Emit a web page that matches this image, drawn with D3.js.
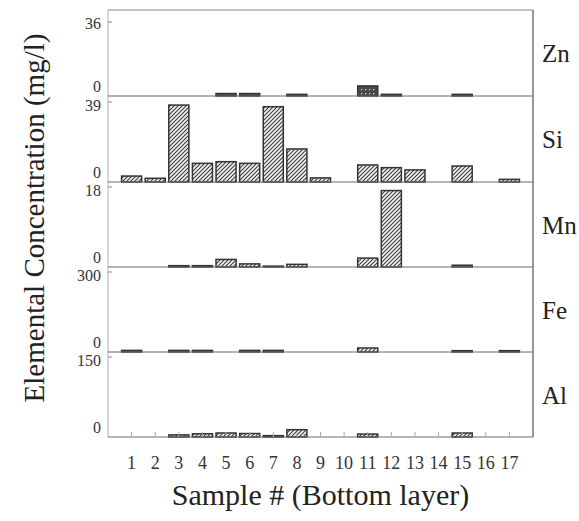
<!DOCTYPE html>
<html>
<head>
<meta charset="utf-8">
<script src="https://cdn.jsdelivr.net/npm/d3@7"></script>
<style>
  html, body { margin: 0; padding: 0; background: #fff; }
  svg { display: block; }
</style>
</head>
<body>
<svg id="chart" width="579" height="521"></svg>
<script>
// Sample numbers along the bottom
const samples = ["1","2","3","4","5","6","7","8","9","10","11","12","13","14","15","16","17"];
// Element panels, top to bottom
const elements = ["Zn", "Si", "Mn", "Fe", "Al"];
// Top tick value of each panel (mg/l)
const axisMax = [36, 39, 18, 300, 150];

// Concentrations per sample (mg/l); 0 = no bar
const zn = [0, 0, 0, 0, 1.2, 1.2, 0, 0.8, 0, 0, 4.9, 0.8, 0, 0, 0.8, 0, 0];
const si = [2.9, 1.8, 37.5, 9.1, 9.9, 9.1, 36.7, 16.1, 2, 0, 8.3, 7, 5.9, 0, 7.8, 0, 1.3];
const mn = [0, 0, 0.3, 0.3, 1.7, 0.7, 0.2, 0.6, 0, 0, 2.0, 17.2, 0, 0, 0.4, 0, 0];
const fe = [6, 0, 6, 6, 0, 6, 6, 0, 0, 0, 15, 0, 0, 0, 5, 0, 5];
const al = [0, 0, 4, 6, 7.5, 6.5, 2.5, 13.7, 0, 0, 5.5, 0, 0, 0, 7.5, 0, 0];

const seriesByElement = [zn, si, mn, fe, al];

// Geometry
const plotLeft = 108, plotRight = 533, plotTop = 10;
const baselines = [96, 182, 267, 352, 437];
const tickSpan = [74, 80, 80, 80, 80];
const FONT = '"Liberation Serif", "Times New Roman", serif';

const svg = d3.select("#chart");

// Fill patterns
const defs = svg.append("defs");
const hatch = defs.append("pattern")
  .attr("id", "hatch").attr("patternUnits", "userSpaceOnUse")
  .attr("width", 4).attr("height", 4);
hatch.append("rect").attr("width", 4).attr("height", 4).attr("fill", "#f4f4f4");
hatch.append("path")
  .attr("d", "M-1,1 l2,-2 M0,4 l4,-4 M3,5 l2,-2")
  .attr("stroke", "#3a3a3a").attr("stroke-width", 1.1);

const dots = defs.append("pattern")
  .attr("id", "dots").attr("patternUnits", "userSpaceOnUse")
  .attr("width", 4).attr("height", 4);
dots.append("rect").attr("width", 4).attr("height", 4).attr("fill", "#4a4a4a");
dots.append("rect").attr("x", 1).attr("y", 1).attr("width", 1.2).attr("height", 1.2).attr("fill", "#d8d8d8");

const x = d3.scaleBand()
  .domain(samples)
  .range([plotLeft, plotRight])
  .paddingInner(0.15)
  .paddingOuter(0.575);

// Frame: top line, right axis, left axis
svg.append("line").attr("x1", plotLeft).attr("x2", plotRight).attr("y1", plotTop).attr("y2", plotTop)
  .attr("stroke", "#8a8a8a").attr("stroke-width", 1);
svg.append("line").attr("x1", plotRight).attr("x2", plotRight).attr("y1", plotTop).attr("y2", baselines[4])
  .attr("stroke", "#555").attr("stroke-width", 1.2);
svg.append("line").attr("x1", plotLeft).attr("x2", plotLeft).attr("y1", plotTop).attr("y2", baselines[4])
  .attr("stroke", "#b0b0b0").attr("stroke-width", 1);

elements.forEach((el, i) => {
  const base = baselines[i];
  const y = d3.scaleLinear().domain([0, axisMax[i]]).range([base, base - tickSpan[i]]);
  const g = svg.append("g");

  // Left axis labels: 0 sits on the baseline, top value hangs below the panel's upper edge
  const yAxis = d3.axisLeft(y).tickValues([0, axisMax[i]]).tickSize(0).tickPadding(7);
  const ax = g.append("g").attr("transform", `translate(${plotLeft},0)`)
    .attr("font-family", null).call(yAxis);
  ax.select(".domain").remove();
  ax.selectAll(".tick text")
    .style("font-family", FONT).style("font-size", "16px")
    .attr("fill", "#333")
    .attr("dy", d => d === 0 ? "-0.26em" : (i === 0 ? "0.4em" : "0.56em"));
  // short inward tick at top value
  g.append("line")
    .attr("x1", plotLeft).attr("x2", plotLeft + 4)
    .attr("y1", y(axisMax[i])).attr("y2", y(axisMax[i]))
    .attr("stroke", "#888");

  // Bars
  const data = samples.map((s, k) => ({ s, v: seriesByElement[i][k] })).filter(d => d.v > 0);
  g.selectAll("rect.bar").data(data).join("rect")
    .attr("class", "bar")
    .attr("x", d => x(d.s))
    .attr("width", x.bandwidth())
    .attr("y", d => y(d.v))
    .attr("height", d => base - y(d.v))
    .attr("fill", el === "Zn" ? "url(#dots)" : "url(#hatch)")
    .attr("stroke", "#333")
    .attr("stroke-width", 1.5);

  // Baseline / panel separator
  g.append("line").attr("x1", plotLeft).attr("x2", plotRight).attr("y1", base).attr("y2", base)
    .attr("stroke", "#6a6a6a").attr("stroke-width", 1);

  // Element name on the right
  const panelTop = i === 0 ? plotTop : baselines[i - 1];
  svg.append("text")
    .attr("x", 542)
    .attr("y", panelTop + (base - panelTop) / 2 + 9)
    .style("font-family", FONT).style("font-size", "25px")
    .attr("fill", "#222")
    .text(el);
});

// Bottom axis with sample numbers and faint inward ticks
const xAxis = d3.axisBottom(x).tickSize(0).tickPadding(19);
const xa = svg.append("g").attr("transform", `translate(0,${baselines[4]})`).call(xAxis);
xa.select(".domain").remove();
xa.selectAll("text")
  .style("font-family", FONT).style("font-size", "18px")
  .attr("fill", "#333");
svg.append("g").selectAll("line").data(samples).join("line")
  .attr("x1", d => x(d) + x.bandwidth() / 2).attr("x2", d => x(d) + x.bandwidth() / 2)
  .attr("y1", baselines[4]).attr("y2", baselines[4] - 5)
  .attr("stroke", "#aaa").attr("stroke-width", 1);

// Axis titles
svg.append("text")
  .attr("x", (plotLeft + plotRight) / 2).attr("y", 505)
  .attr("text-anchor", "middle")
  .style("font-family", FONT).style("font-size", "30px")
  .attr("fill", "#222")
  .text("Sample # (Bottom layer)");

svg.append("text")
  .attr("transform", "translate(44,218) rotate(-90)")
  .attr("text-anchor", "middle")
  .style("font-family", FONT).style("font-size", "29px")
  .attr("fill", "#222")
  .text("Elemental Concentration (mg/l)");
</script>
</body>
</html>
